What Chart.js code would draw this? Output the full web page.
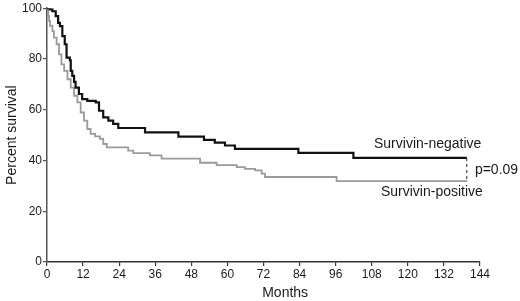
<!DOCTYPE html>
<html>
<head>
<meta charset="utf-8">
<script src="https://cdn.jsdelivr.net/npm/chart.js@4"></script>
<style>
	html, body { margin: 0; padding: 0; background: #fff; }
	#wrap { width: 520px; height: 301px; }
</style>
</head>
<body>
<div id="wrap"><canvas id="survChart" width="520" height="301"></canvas></div>
<script>
// survivin-negative (black)
const negMonths = [0, 1, 1.8, 2.9, 3.7, 4.3, 5.1, 5.9, 6.5, 7.6, 7.9, 8.4, 9, 9.5, 10.6, 11.7, 13.4, 16.2, 17.3, 18.7, 20.4, 22, 23.7, 32.6, 43.7, 52.2, 55.8, 59.2, 62.5, 83.6, 101.9, 139.6];
const negSurvival = [100, 99.5, 98.8, 96.9, 94.2, 92.9, 89, 85.8, 80.5, 79.5, 75.3, 73.3, 71, 68.7, 66.2, 64.2, 63.5, 62.9, 59.6, 57, 55.7, 54.4, 52.8, 51.1, 49.4, 48.1, 47, 45.9, 44.6, 43, 41, 41];

// survivin-positive (grey)
const posMonths = [0, 0.4, 0.7, 1, 1.8, 2.3, 3.2, 4, 4.8, 5.7, 6.8, 7.9, 9, 10.1, 11.2, 12.3, 13.4, 14.5, 16, 17.6, 18.7, 19.9, 27, 28.7, 34.2, 38.1, 50.9, 56.4, 63.1, 65.8, 69.2, 71.4, 72.5, 96.3, 139.8];
const posSurvival = [100, 97, 95, 93, 91, 88.4, 85.8, 81.8, 77.9, 75.3, 72, 68.7, 65.5, 62.9, 58.9, 55.7, 52.4, 50.5, 49.5, 48.5, 46.5, 45.2, 43.9, 42.9, 42, 40.7, 39.1, 38.2, 37.4, 36.7, 36.1, 34.8, 33.5, 31.9, 31.9];

const seriesNames = ['Survivin-negative', 'Survivin-positive'];
const pValueText = 'p=0.09';
const xTitle = 'Months';
const yTitle = 'Percent survival';

function toPoints(xs, ys){
	var pts = [];
	for (var i = 0; i < xs.length; i++) {
		pts.push({x: xs[i], y: ys[i]});
	}
	return pts;
}

var lastNeg = negMonths.length - 1;
var lastPos = posMonths.length - 1;
var pLine = [
	{x: negMonths[lastNeg], y: negSurvival[lastNeg]},
	{x: negMonths[lastNeg], y: posSurvival[lastPos]}
];

var FONT = "'Liberation Sans', Arial, sans-serif";
var TXT = '#1a1a1a';

// labels drawn next to the curves
var curveLabels = {
	id: 'curveLabels',
	afterDatasetsDraw: function(chart){
		var ctx = chart.ctx;
		var xs = chart.scales.x, ys = chart.scales.y;
		ctx.save();
		ctx.fillStyle = TXT;
		ctx.font = '14px ' + FONT;
		ctx.textBaseline = 'middle';
		ctx.textAlign = 'center';
		ctx.fillText(seriesNames[0], xs.getPixelForValue(126.6), ys.getPixelForValue(46.6));
		ctx.fillText(seriesNames[1], xs.getPixelForValue(128), ys.getPixelForValue(27.5));
		ctx.textAlign = 'left';
		ctx.fillText(pValueText, xs.getPixelForValue(142.3), ys.getPixelForValue(36));
		ctx.textAlign = 'center';
		ctx.fillText(xTitle, xs.getPixelForValue(79.2), chart.height - 8);
		ctx.restore();
	}
};

var ctx = document.getElementById('survChart');
var chart = new Chart(ctx, {
	type: 'line',
	data: {
		datasets: [{
			label: seriesNames[0],
			data: toPoints(negMonths, negSurvival),
			borderColor: '#111',
			borderWidth: 2.2,
			stepped: 'before',
			pointRadius: 0,
			fill: false
		}, {
			label: seriesNames[1],
			data: toPoints(posMonths, posSurvival),
			borderColor: '#9a9a9a',
			borderWidth: 1.8,
			stepped: 'before',
			pointRadius: 0,
			fill: false
		}, {
			label: 'p',
			data: pLine,
			borderColor: '#222',
			borderWidth: 1,
			borderDash: [3, 3],
			pointRadius: 0,
			fill: false
		}]
	},
	options: {
		responsive: false,
		animation: false,
		events: [],
		layout: { padding: { top: 7, right: 40, left: 0, bottom: 0 } },
		plugins: { legend: { display: false }, tooltip: { enabled: false } },
		scales: {
			x: {
				type: 'linear',
				min: 0,
				max: 144,
				afterFit: function(s){ s.height = 39; },
				border: { display: true, color: '#333', width: 1.5 },
				grid: { drawOnChartArea: false, drawTicks: true, tickLength: 4, color: '#333', lineWidth: 1.2 },
				ticks: { stepSize: 12, color: TXT, padding: 1, maxRotation: 0, font: { family: FONT, size: 12 } },
				title: { display: false }
			},
			y: {
				min: 0,
				max: 100,
				afterFit: function(s){ s.width = 47; },
				border: { display: true, color: '#555', width: 1.5 },
				grid: { drawOnChartArea: false, drawTicks: true, tickLength: 4, color: '#555', lineWidth: 1.2 },
				ticks: { stepSize: 20, color: TXT, padding: 1, font: { family: FONT, size: 12 } },
				title: { display: true, text: yTitle, color: TXT, font: { family: FONT, size: 14 }, padding: { top: 4, bottom: 0 } }
			}
		}
	},
	plugins: [curveLabels]
});
</script>
</body>
</html>
